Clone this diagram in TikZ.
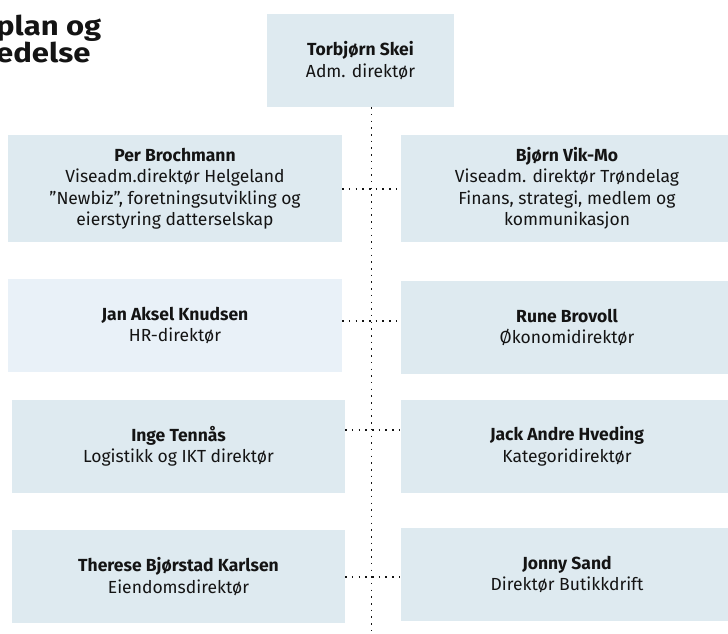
\documentclass[tikz,border=0pt]{standalone}
\usepackage{fontspec}
\setmainfont{Fira Sans}
\newfontfamily\titlefont{Fira Sans}[FakeStretch=1.15]
\definecolor{boxblue}{HTML}{DEEAF0}
\definecolor{boxlight}{HTML}{E9F1F8}
\definecolor{ink}{HTML}{141414}
\tikzset{
  orgbox/.style={rectangle, fill=boxblue, draw=none, inner sep=0pt, align=center,
    text=ink, font=\fontsize{17.5}{21.5}\selectfont},
  dotline/.style={draw=ink, line width=1.5pt, dash pattern=on 1.5pt off 5.2pt},
  titletext/.style={anchor=base west, inner sep=0pt, text=ink, font=\titlefont\fontsize{27}{30}\selectfont\bfseries}
}
\begin{document}
\begin{tikzpicture}[x=1pt,y=-1pt]
\useasboundingbox (0,0) rectangle (728,633);
\clip (0,0) rectangle (728,633);
% title (cut off at left)
\node[titletext] (t1) at (-4,35) {plan og};
\node[titletext] (t2) at (-4,62) {edelse};
% boxes
\node[orgbox, minimum width=187pt, minimum height=93pt] (ceo) at (360.5,60.5)
  {\textbf{Torbjørn Skei}\\Adm. direktør};
\node[orgbox, minimum width=334pt, minimum height=107pt] (l1) at (175,188.5)
  {\textbf{Per Brochmann}\\Viseadm.direktør Helgeland\\"Newbiz", foretningsutvikling og\\eierstyring datterselskap};
\node[orgbox, minimum width=332pt, minimum height=107pt] (r1) at (567,188.5)
  {\textbf{Bjørn Vik-Mo}\\Viseadm. direktør Trøndelag\\Finans, strategi, medlem og\\kommunikasjon};
\node[orgbox, fill=boxlight, minimum width=334pt, minimum height=93pt] (l2) at (175,325.5)
  {\textbf{Jan Aksel Knudsen}\\HR-direktør};
\node[orgbox, minimum width=332pt, minimum height=93pt] (r2) at (567,327.5)
  {\textbf{Rune Brovoll}\\Økonomidirektør};
\node[orgbox, minimum width=333pt, minimum height=93pt] (l3) at (178.5,446.5)
  {\textbf{Inge Tennås}\\Logistikk og IKT direktør};
\node[orgbox, minimum width=332pt, minimum height=93pt] (r3) at (567,446.5)
  {\textbf{Jack Andre Hveding}\\Kategoridirektør};
\node[orgbox, minimum width=333pt, minimum height=93pt] (l4) at (178.5,576.5)
  {\textbf{Therese Bjørstad Karlsen}\\Eiendomsdirektør};
\node[orgbox, minimum width=332pt, minimum height=93pt] (r4) at (567,574.5)
  {\textbf{Jonny Sand}\\Direktør Butikkdrift};
% connectors
\coordinate (vend) at (371.5,636);
\coordinate (h1) at (371.5,189);
\coordinate (h2) at (371.5,321);
\coordinate (h3) at (371.5,430);
\coordinate (h4) at (371.5,577);
\draw[dotline] (ceo.south -| vend) -- (vend);
\draw[dotline] (l1.east |- h1) -- (r1.west |- h1);
\draw[dotline] (l2.east |- h2) -- (r2.west |- h2);
\draw[dotline] (l3.east |- h3) -- (r3.west |- h3);
\draw[dotline] (l4.east |- h4) -- (r4.west |- h4);
\end{tikzpicture}
\end{document}
